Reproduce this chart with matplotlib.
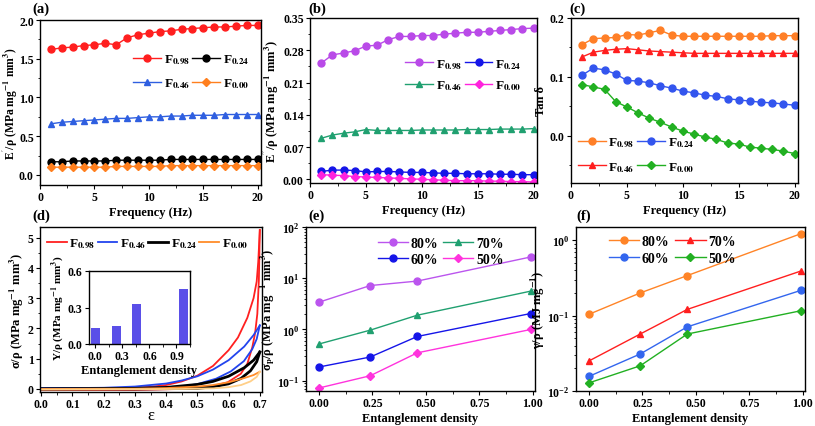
import matplotlib.pyplot as plt
from matplotlib.ticker import AutoMinorLocator, MultipleLocator, FormatStrFormatter

# 字体设置：Times 风格的粗体
plt.rcParams['font.family'] = ['Liberation Serif', 'DejaVu Serif']
plt.rcParams['font.weight'] = 'bold'
plt.rcParams['axes.labelweight'] = 'bold'
plt.rcParams['mathtext.fontset'] = 'stix'
plt.rcParams['font.size'] = 9
plt.rcParams['axes.linewidth'] = 1.0
plt.rcParams['xtick.major.size'] = 3
plt.rcParams['ytick.major.size'] = 3
plt.rcParams['xtick.minor.size'] = 1.8
plt.rcParams['ytick.minor.size'] = 1.8
plt.rcParams['xtick.major.pad'] = 1.5
plt.rcParams['ytick.major.pad'] = 1.5

# ---------------- 数据 ----------------
freq = list(range(1, 21))

# (a) 储能模量
a_f098 = [1.62, 1.64, 1.65, 1.67, 1.68, 1.70, 1.68, 1.77, 1.81, 1.83,
          1.85, 1.86, 1.88, 1.89, 1.90, 1.91, 1.91, 1.92, 1.93, 1.93]
a_f046 = [0.66, 0.68, 0.69, 0.70, 0.71, 0.72, 0.73, 0.73, 0.74, 0.75,
          0.75, 0.76, 0.76, 0.77, 0.77, 0.77, 0.78, 0.78, 0.78, 0.78]
a_f024 = [0.17, 0.17, 0.18, 0.18, 0.18, 0.18, 0.19, 0.19, 0.19, 0.19,
          0.19, 0.20, 0.20, 0.20, 0.20, 0.20, 0.20, 0.20, 0.20, 0.20]
a_f000 = [0.10, 0.10, 0.10, 0.10, 0.10, 0.10, 0.11, 0.11, 0.11, 0.11,
          0.11, 0.12, 0.12, 0.12, 0.12, 0.12, 0.12, 0.12, 0.12, 0.12]

# (b) 损耗模量
b_f098 = [0.252, 0.270, 0.274, 0.279, 0.289, 0.291, 0.303, 0.310, 0.310, 0.312,
          0.312, 0.315, 0.317, 0.319, 0.319, 0.321, 0.323, 0.325, 0.327, 0.328]
b_f046 = [0.089, 0.096, 0.100, 0.103, 0.108, 0.106, 0.106, 0.106, 0.106, 0.107,
          0.107, 0.107, 0.107, 0.108, 0.108, 0.108, 0.109, 0.109, 0.109, 0.110]
b_f024 = [0.017, 0.020, 0.020, 0.019, 0.016, 0.017, 0.017, 0.016, 0.015, 0.015,
          0.014, 0.013, 0.013, 0.012, 0.012, 0.012, 0.011, 0.011, 0.010, 0.010]
b_f000 = [0.010, 0.009, 0.008, 0.006, 0.005, 0.004, 0.003, 0.002, 0.001, 0.000,
          -0.001, -0.002, -0.003, -0.003, -0.003, -0.004, -0.004, -0.005, -0.005, -0.006]

# (c) 损耗因子
c_f098 = [0.155, 0.165, 0.166, 0.167, 0.172, 0.171, 0.175, 0.179, 0.171, 0.169,
          0.169, 0.169, 0.169, 0.169, 0.169, 0.169, 0.169, 0.170, 0.170, 0.170]
c_f046 = [0.134, 0.142, 0.145, 0.147, 0.148, 0.146, 0.144, 0.143, 0.142, 0.141,
          0.140, 0.140, 0.140, 0.140, 0.140, 0.140, 0.140, 0.140, 0.140, 0.140]
c_f024 = [0.103, 0.115, 0.112, 0.105, 0.094, 0.093, 0.090, 0.085, 0.081, 0.076,
          0.073, 0.069, 0.067, 0.063, 0.061, 0.059, 0.057, 0.056, 0.054, 0.052]
c_f000 = [0.087, 0.083, 0.079, 0.058, 0.049, 0.039, 0.030, 0.023, 0.015, 0.008,
          0.003, -0.002, -0.006, -0.012, -0.014, -0.019, -0.021, -0.023, -0.026, -0.030]

# (d) 压缩应力-应变回线（加载 / 卸载）
d_red_up_x = [0.0, 0.1, 0.2, 0.3, 0.35, 0.4, 0.45, 0.5, 0.55, 0.6, 0.63, 0.66, 0.68, 0.69, 0.695, 0.70]
d_red_up_y = [-0.03, -0.02, 0.0, 0.04, 0.07, 0.13, 0.25, 0.44, 0.76, 1.28, 1.70, 2.35, 3.00, 3.55, 4.20, 5.25]
d_red_dn_x = [0.70, 0.697, 0.692, 0.685, 0.676, 0.66, 0.639, 0.597, 0.554, 0.5, 0.45, 0.3, 0.0]
d_red_dn_y = [5.25, 3.60, 2.48, 1.85, 1.38, 0.83, 0.50, 0.22, 0.11, 0.04, 0.0, -0.03, -0.04]
d_blue_up_x = [0.0, 0.1, 0.2, 0.3, 0.4, 0.45, 0.5, 0.55, 0.6, 0.65, 0.68, 0.70]
d_blue_up_y = [0.03, 0.03, 0.04, 0.08, 0.18, 0.28, 0.42, 0.64, 0.95, 1.40, 1.78, 2.10]
d_blue_dn_x = [0.70, 0.69, 0.676, 0.649, 0.607, 0.56, 0.533, 0.5, 0.45, 0.3, 0.0]
d_blue_dn_y = [2.10, 1.65, 1.32, 0.92, 0.58, 0.34, 0.26, 0.16, 0.08, 0.03, 0.02]
d_black_up_x = [0.0, 0.3, 0.4, 0.5, 0.55, 0.6, 0.65, 0.68, 0.70]
d_black_up_y = [0.0, 0.02, 0.05, 0.15, 0.25, 0.42, 0.70, 0.95, 1.22]
d_black_dn_x = [0.70, 0.69, 0.67, 0.64, 0.6, 0.55, 0.5, 0.3, 0.0]
d_black_dn_y = [1.22, 0.90, 0.60, 0.35, 0.17, 0.07, 0.02, 0.0, 0.0]
d_orange_up_x = [0.0, 0.3, 0.4, 0.5, 0.55, 0.6, 0.65, 0.68, 0.70]
d_orange_up_y = [0.0, 0.01, 0.03, 0.08, 0.13, 0.22, 0.36, 0.46, 0.57]
d_orange_dn_x = [0.70, 0.69, 0.67, 0.64, 0.6, 0.55, 0.45, 0.0]
d_orange_dn_y = [0.57, 0.40, 0.25, 0.13, 0.06, 0.02, 0.0, -0.02]

# (d) 插图：柱状图
inset_x = [0.0, 0.24, 0.46, 0.98]
inset_y = [0.13, 0.15, 0.33, 0.45]

# (e)(f) 缠结密度
density = [0.0, 0.24, 0.46, 0.99]
e_80 = [3.4, 7.2, 8.8, 26.0]
e_70 = [0.52, 0.97, 1.9, 5.6]
e_60 = [0.185, 0.29, 0.73, 2.05]
e_50 = [0.072, 0.125, 0.35, 1.0]
f_80 = [0.104, 0.20, 0.34, 1.22]
f_70 = [0.025, 0.057, 0.121, 0.39]
f_60 = [0.0156, 0.031, 0.071, 0.216]
f_50 = [0.0128, 0.0216, 0.057, 0.116]

# ---------------- 画布 ----------------
W, H = 815, 427
fig = plt.figure(figsize=(W / 100, H / 100), dpi=100)


def ax_px(l, t, r, b):
    # 以像素坐标创建子图
    return fig.add_axes([l / W, 1 - b / H, (r - l) / W, (b - t) / H])


def lbl(s):
    return r'F$_{\mathbf{' + s + '}}$'


def style(ax, size=8.5):
    ax.tick_params(which='both', direction='out', labelsize=size, top=False, right=False)
    for t in ax.get_xticklabels() + ax.get_yticklabels():
        t.set_fontweight('bold')


ms = 5
LAB = 9
leg_kw = dict(frameon=False, ncol=2, handlelength=2.1, columnspacing=0.2,
              handletextpad=0.2, borderpad=0.2, prop={'weight': 'bold', 'size': 9.5})

# (a)
ax = ax_px(40, 21, 261, 186)
ax.plot(freq, a_f098, '-o', color='#ff1f1f', ms=ms, lw=1, label=lbl('0.98'))
ax.plot(freq, a_f046, '-^', color='#2f5fe0', ms=ms, lw=1, label=lbl('0.46'))
ax.plot(freq, a_f024, '-o', color='black', ms=ms, lw=1, label=lbl('0.24'))
ax.plot(freq, a_f000, '-D', color='#ff7f1e', ms=4, lw=1, label=lbl('0.00'))
ax.set_xlim(0, 20.3)
ax.set_ylim(-0.13, 2.0)
ax.yaxis.set_major_locator(MultipleLocator(0.5))
ax.yaxis.set_major_formatter(FormatStrFormatter('%.1f'))
ax.xaxis.set_major_locator(MultipleLocator(5))
ax.xaxis.set_minor_locator(AutoMinorLocator(2))
ax.yaxis.set_minor_locator(AutoMinorLocator(2))
ax.set_xlabel('Frequency (Hz)', fontsize=LAB, labelpad=2)
ax.set_ylabel(r"E$^{'}$/ρ (MPa mg$\mathbf{^{-1}}$ mm$\mathbf{^{3}}$)", fontsize=8.4)
ax.yaxis.set_label_coords(-0.092, 0.5)
ax.legend(loc='upper left', bbox_to_anchor=(0.38, 0.86), labelspacing=0.8, **leg_kw)
style(ax)
fig.text(32 / W, 1 - 9 / H, '(a)', fontsize=10.5, fontweight='bold', va='center')

# (b)
ax = ax_px(310, 19, 537, 184)
ax.plot(freq, b_f098, '-o', color='#b94ae8', ms=ms, lw=1, label=lbl('0.98'))
ax.plot(freq, b_f046, '-^', color='#20a070', ms=ms, lw=1, label=lbl('0.46'))
ax.plot(freq, b_f024, '-o', color='#1515e8', ms=ms, lw=1, label=lbl('0.24'))
ax.plot(freq, b_f000, '-D', color='#ff22dd', ms=4, lw=1, label=lbl('0.00'))
ax.set_xlim(0, 20.3)
ax.set_ylim(-0.008, 0.35)
ax.yaxis.set_major_locator(MultipleLocator(0.07))
ax.yaxis.set_major_formatter(FormatStrFormatter('%.2f'))
ax.xaxis.set_major_locator(MultipleLocator(5))
ax.xaxis.set_minor_locator(AutoMinorLocator(2))
ax.yaxis.set_minor_locator(AutoMinorLocator(2))
ax.set_xlabel('Frequency (Hz)', fontsize=LAB, labelpad=2)
ax.set_ylabel(r"E$^{''}$/ρ (MPa mg$\mathbf{^{-1}}$ mm$\mathbf{^{3}}$)", fontsize=LAB, labelpad=1)
ax.legend(loc='upper left', bbox_to_anchor=(0.38, 0.82), labelspacing=0.6, **leg_kw)
style(ax)
fig.text(308 / W, 1 - 9 / H, '(b)', fontsize=10.5, fontweight='bold', va='center')

# (c)
ax = ax_px(571, 19, 798, 184)
ax.plot(freq, c_f098, '-o', color='#ff7f27', ms=ms, lw=1, label=lbl('0.98'))
ax.plot(freq, c_f046, '-^', color='#ff1f1f', ms=ms, lw=1, label=lbl('0.46'))
ax.plot(freq, c_f024, '-o', color='#3355ee', ms=ms, lw=1, label=lbl('0.24'))
ax.plot(freq, c_f000, '-D', color='#22b022', ms=4, lw=1, label=lbl('0.00'))
ax.set_xlim(0, 20.3)
ax.set_ylim(-0.08, 0.2)
ax.yaxis.set_major_locator(MultipleLocator(0.1))
ax.yaxis.set_major_formatter(FormatStrFormatter('%.1f'))
ax.xaxis.set_major_locator(MultipleLocator(5))
ax.xaxis.set_minor_locator(AutoMinorLocator(2))
ax.yaxis.set_minor_locator(AutoMinorLocator(2))
ax.set_xlabel('Frequency (Hz)', fontsize=LAB, labelpad=2)
ax.set_ylabel('Tan δ', fontsize=LAB, labelpad=2)
ax.legend(loc='lower left', bbox_to_anchor=(-0.01, 0.0), labelspacing=0.8, **leg_kw)
style(ax)
fig.text(569 / W, 1 - 9 / H, '(c)', fontsize=10.5, fontweight='bold', va='center')

# (d)
ax = ax_px(40, 228, 262, 393)
ax.plot(d_red_up_x, d_red_up_y, color='#ff2020', lw=1.3, label=lbl('0.98'))
ax.plot(d_red_dn_x, d_red_dn_y, color='#ff2020', lw=1.3)
ax.plot(d_blue_up_x, d_blue_up_y, color='#2244ee', lw=1.3, label=lbl('0.46'))
ax.plot(d_blue_dn_x, d_blue_dn_y, color='#2244ee', lw=1.3)
ax.plot(d_black_up_x, d_black_up_y, color='black', lw=2.0, label=lbl('0.24'))
ax.plot(d_black_dn_x, d_black_dn_y, color='black', lw=2.0)
ax.plot(d_orange_up_x, d_orange_up_y, color='#ff8c2a', lw=1.3, label=lbl('0.00'))
ax.plot(d_orange_dn_x, d_orange_dn_y, color='#ffcf88', lw=1.3)
ax.set_xlim(-0.004, 0.707)
ax.set_ylim(-0.1, 5.35)
ax.xaxis.set_major_locator(MultipleLocator(0.1))
ax.xaxis.set_major_formatter(FormatStrFormatter('%.1f'))
ax.xaxis.set_minor_locator(AutoMinorLocator(2))
ax.yaxis.set_major_locator(MultipleLocator(1))
ax.yaxis.set_minor_locator(AutoMinorLocator(2))
ax.set_xlabel('ε', fontsize=12, fontweight='normal', labelpad=-2)
ax.set_ylabel(r"σ/ρ (MPa mg$\mathbf{^{-1}}$ mm$\mathbf{^{3}}$)", fontsize=LAB, labelpad=1)
ax.legend(loc='upper left', bbox_to_anchor=(-0.01, 1.0), frameon=False, ncol=4,
          handlelength=1.5, columnspacing=0.15, handletextpad=0.2, borderpad=0.2,
          prop={'weight': 'bold', 'size': 9.5})
style(ax)
fig.text(32 / W, 1 - 216 / H, '(d)', fontsize=10.5, fontweight='bold', va='center')

# (d) 插图
axi = ax_px(89, 272, 190, 345)
axi.bar(inset_x, inset_y, width=0.1, color='#5a4fe8')
axi.set_xlim(-0.07, 1.05)
axi.set_ylim(0, 0.6)
axi.xaxis.set_major_locator(MultipleLocator(0.3))
axi.xaxis.set_minor_locator(AutoMinorLocator(2))
axi.yaxis.set_major_locator(MultipleLocator(0.3))
axi.xaxis.set_major_formatter(FormatStrFormatter('%.1f'))
axi.yaxis.set_major_formatter(FormatStrFormatter('%.1f'))
axi.set_xlabel('Entanglement density', fontsize=LAB, labelpad=1)
axi.set_ylabel(r"Y/ρ (MPa mg$\mathbf{^{-1}}$ mm$\mathbf{^{3}}$)", fontsize=8, labelpad=1)
style(axi)

# (e)
ax = ax_px(306, 228, 535, 392)
ax.plot(density, e_80, '-o', color='#bb55ee', ms=ms, lw=1, label='80%')
ax.plot(density, e_60, '-o', color='#1515e8', ms=ms, lw=1, label='60%')
ax.plot(density, e_70, '-^', color='#20a070', ms=ms, lw=1, label='70%')
ax.plot(density, e_50, '-D', color='#ff33dd', ms=4, lw=1, label='50%')
ax.set_yscale('log')
ax.set_xlim(-0.06, 1.01)
ax.set_ylim(0.063, 100)
ax.xaxis.set_major_locator(MultipleLocator(0.25))
ax.xaxis.set_minor_locator(AutoMinorLocator(2))
ax.xaxis.set_major_formatter(FormatStrFormatter('%.2f'))
ax.set_xlabel('Entanglement density', fontsize=LAB, labelpad=2)
ax.set_ylabel(r"σ$_{\mathbf{p}}$/ρ (MPa mg$\mathbf{^{-1}}$ mm$\mathbf{^{3}}$)", fontsize=LAB, labelpad=0)
ax.legend(loc='upper left', bbox_to_anchor=(0.27, 1.0), frameon=False, ncol=2,
          handlelength=2.2, columnspacing=0.3, handletextpad=0.2, labelspacing=0.25,
          borderpad=0.2, prop={'weight': 'bold', 'size': 10})
style(ax)
fig.text(308 / W, 1 - 216 / H, '(e)', fontsize=10.5, fontweight='bold', va='center')

# (f)
ax = ax_px(576, 228, 805, 392)
ax.plot(density, f_80, '-o', color='#ff8427', ms=ms, lw=1, label='80%')
ax.plot(density, f_60, '-o', color='#3366ee', ms=ms, lw=1, label='60%')
ax.plot(density, f_70, '-^', color='#ff1f1f', ms=ms, lw=1, label='70%')
ax.plot(density, f_50, '-D', color='#22b022', ms=4, lw=1, label='50%')
ax.set_yscale('log')
ax.set_xlim(-0.06, 1.01)
ax.set_ylim(0.01, 1.5)
ax.xaxis.set_major_locator(MultipleLocator(0.25))
ax.xaxis.set_minor_locator(AutoMinorLocator(2))
ax.xaxis.set_major_formatter(FormatStrFormatter('%.2f'))
ax.set_xlabel('Entanglement density', fontsize=LAB, labelpad=2)
ax.set_ylabel(r"γ/ρ (MJ mg$\mathbf{^{-1}}$)", fontsize=LAB, labelpad=0)
ax.legend(loc='upper left', bbox_to_anchor=(0.1, 1.01), frameon=False, ncol=2,
          handlelength=2.2, columnspacing=0.4, handletextpad=0.2, labelspacing=0.3,
          borderpad=0.2, prop={'weight': 'bold', 'size': 10})
style(ax)
fig.text(576 / W, 1 - 216 / H, '(f)', fontsize=10.5, fontweight='bold', va='center')

fig.savefig('out.png', dpi=100)
